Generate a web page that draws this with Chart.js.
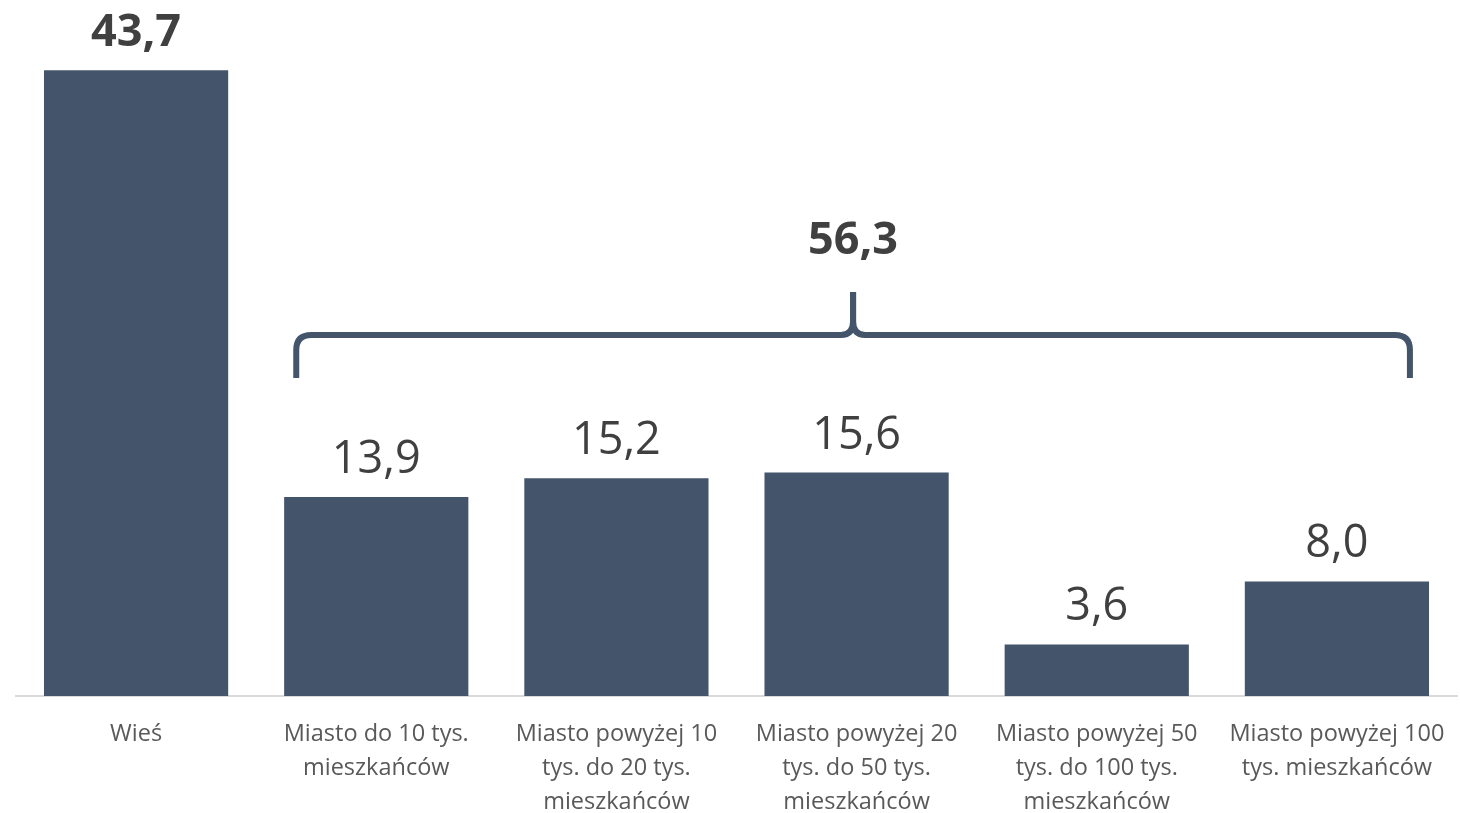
<!DOCTYPE html>
<html>
<head>
<meta charset="utf-8">
<script src="https://cdn.jsdelivr.net/npm/chart.js@4"></script>
<style>
    html, body { margin: 0; padding: 0; background: #ffffff; }
    #wrap { position: relative; width: 1460px; height: 813px; }
</style>
</head>
<body>
<div id="wrap">
    <canvas id="myChart"></canvas>
</div>
<script>
const categories = [
    ['Wieś'],
    ['Miasto do 10 tys.', 'mieszkańców'],
    ['Miasto powyżej 10', 'tys. do 20 tys.', 'mieszkańców'],
    ['Miasto powyżej 20', 'tys. do 50 tys.', 'mieszkańców'],
    ['Miasto powyżej 50', 'tys. do 100 tys.', 'mieszkańców'],
    ['Miasto powyżej 100', 'tys. mieszkańców']
];
const values = [43.7, 13.9, 15.2, 15.6, 3.6, 8.0];
const boldLabels = [true, false, false, false, false, false];
// bracket over city bars (index 1..5) with their total
const groupRange = [1, 5];
const groupTotal = 56.3;

const barColor = '#44546A';
const fontFamily = "'Open Sans', 'Liberation Sans', sans-serif";
const fmt = (v) => v.toFixed(1).replace('.', ',');

// value labels above bars + bracket
const labelsPlugin = {
    id: 'labels',
    afterDatasetsDraw(chart) {
        const ctx = chart.ctx;
        const meta = chart.getDatasetMeta(0);
        const x = chart.scales.x;
        ctx.save();
        ctx.fillStyle = '#404040';
        ctx.textAlign = 'center';
        ctx.textBaseline = 'alphabetic';
        meta.data.forEach((bar, i) => {
            ctx.font = (boldLabels[i] ? 'bold ' : '') + '45px ' + fontFamily;
            ctx.fillText(fmt(values[i]), bar.x, bar.y - 24);
        });

        // bracket
        const left = x.getPixelForValue(groupRange[0]) - 80;
        const right = x.getPixelForValue(groupRange[1]) + 73;
        const mid = (left + right) / 2;
        const bottom = 378, line = 335, peak = 292, r = 15;
        ctx.strokeStyle = barColor;
        ctx.lineWidth = 6;
        ctx.lineJoin = 'round';
        ctx.beginPath();
        ctx.moveTo(left, bottom);
        ctx.lineTo(left, line + r);
        ctx.quadraticCurveTo(left, line, left + r, line);
        ctx.lineTo(mid - 12, line);
        ctx.quadraticCurveTo(mid, line, mid, line - 14);
        ctx.lineTo(mid, peak);
        ctx.stroke();
        ctx.beginPath();
        ctx.moveTo(mid, peak);
        ctx.lineTo(mid, line - 14);
        ctx.quadraticCurveTo(mid, line, mid + 12, line);
        ctx.lineTo(right - r, line);
        ctx.quadraticCurveTo(right, line, right, line + r);
        ctx.lineTo(right, bottom);
        ctx.stroke();

        ctx.font = 'bold 45px ' + fontFamily;
        ctx.fillText(fmt(groupTotal), mid, 254);
        ctx.restore();
    }
};

Chart.register(labelsPlugin);
const ctx = document.getElementById('myChart').getContext('2d');
const myChart = new Chart(ctx, {
    type: 'bar',
    data: {
        labels: categories,
        datasets: [{
            data: values,
            backgroundColor: barColor,
            categoryPercentage: 1,
            barPercentage: 0.767
        }]
    },
    options: {
        responsive: true,
        maintainAspectRatio: false,
        animation: false,
        layout: { padding: { left: 16, right: 3, top: 0, bottom: 0 } },
        plugins: {
            legend: { display: false },
            tooltip: { enabled: false }
        },
        scales: {
            x: {
                grid: { display: false },
                border: { display: true, color: '#d9d9d9', width: 2 },
                ticks: {
                    color: '#595959',
                    font: { family: fontFamily, size: 23.5, lineHeight: 1.45 },
                    padding: 13,
                    maxRotation: 0,
                    autoSkip: false
                },
                afterFit(scale) {
                    scale.height = 117;
                    scale.paddingLeft = 0;
                    scale.paddingRight = 0;
                }
            },
            y: {
                display: false,
                min: 0,
                max: 48.6
            }
        }
    }
});
</script>
</body>
</html>
